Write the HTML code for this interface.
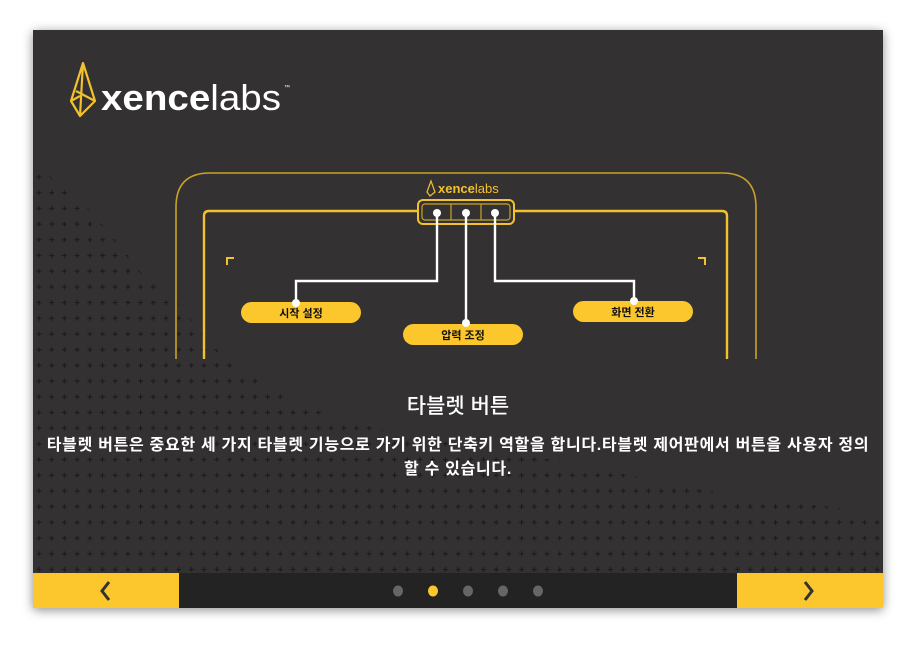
<!DOCTYPE html>
<html><head><meta charset="utf-8"><style>
html,body{margin:0;padding:0;background:#fff;width:916px;height:646px;overflow:hidden}
.card{position:absolute;left:33px;top:30px;width:850px;height:578px;background:#333131;box-shadow:0 2px 10px rgba(0,0,0,.45)}
svg{position:absolute;left:0;top:0}
.t{position:absolute;left:0;width:916px;text-align:center;color:#fff;font-family:"Liberation Sans","Noto Sans CJK KR",sans-serif;white-space:nowrap}
</style></head><body>
<div class="card"></div>
<svg width="916" height="646" viewBox="0 0 916 646">
<defs>
<pattern id="pl" x="35" y="173" width="12.7" height="15.7" patternUnits="userSpaceOnUse">
<path d="M4 1.5V6.5M1.5 4H6.5" stroke="#1c1b1b" stroke-width="1.1"/>
</pattern>
<clipPath id="cp"><polygon points="33,170 45,170 58,186 83,202 96,217 109,233 122,248 134,264 147,280 172,296 185,312 198,327 211,343 226,359 300,405 393,433 570,463 653,480 741,497 884,513 884,573 33,573"/></clipPath>
</defs>
<rect x="33" y="170" width="851" height="403" fill="url(#pl)" clip-path="url(#cp)"/>
<g fill="none" stroke="#f2c12e" stroke-width="2.2" stroke-linejoin="round">
<path d="M83,63 L71,101 L80,116 L95,101 Z"/>
<path d="M83,63 L80,116 M76,91 L95,101 M71,101 L80,96"/>
</g>
<text x="101" y="110" font-family="Liberation Sans,sans-serif" font-size="36" fill="#fff" textLength="180" lengthAdjust="spacingAndGlyphs"><tspan font-weight="bold">xence</tspan><tspan font-weight="normal">labs</tspan></text>
<text x="284" y="89" font-family="Liberation Sans,sans-serif" font-size="6" fill="#fff">™</text>
<path d="M176,359 V207 Q176,173 210,173 H722 Q756,173 756,207 V359" fill="none" stroke="#c9a227" stroke-width="1.6"/>
<path d="M204,359 V216 Q204,211 209,211 H418 M514,211 H722 Q727,211 727,216 V359" fill="none" stroke="#f2c12e" stroke-width="2.4"/>
<rect x="418" y="200" width="96" height="24" rx="5" fill="none" stroke="#f2c12e" stroke-width="2"/>
<rect x="422" y="204" width="88" height="16" rx="3" fill="none" stroke="#c9a227" stroke-width="1.2"/>
<path d="M451,204 V220 M481,204 V220" stroke="#c9a227" stroke-width="1.2"/>
<g fill="none" stroke="#f2c12e" stroke-width="2"><path d="M227,265 V258 H234"/><path d="M698,258 H705 V265"/></g>
<g transform="translate(427,181)" fill="none" stroke="#f2c12e" stroke-width="1.2"><path d="M4,0 L0,11 L3,15 L8,11 Z"/></g>
<text x="438" y="193" font-family="Liberation Sans,sans-serif" font-size="13" fill="#f2c12e"><tspan font-weight="bold">xence</tspan>labs</text>
<g fill="none" stroke="#fff" stroke-width="2.4">
<path d="M437,213 V281 H296 V303"/><path d="M466,213 V323"/><path d="M495,213 V281 H634 V301"/>
</g>
<rect x="241" y="302" width="120" height="21" rx="10.5" fill="#fcc72c"/>
<rect x="403" y="324" width="120" height="21" rx="10.5" fill="#fcc72c"/>
<rect x="573" y="301" width="120" height="21" rx="10.5" fill="#fcc72c"/>
<g fill="#fff"><circle cx="437" cy="213" r="4"/><circle cx="466" cy="213" r="4"/><circle cx="495" cy="213" r="4"/><circle cx="296" cy="303" r="4"/><circle cx="466" cy="323" r="4"/><circle cx="634" cy="301" r="4"/></g>
<g font-family="Liberation Sans,'Noto Sans CJK KR',sans-serif" font-size="11" font-weight="bold" fill="#111" text-anchor="middle">
<text x="301" y="317">시작 설정</text><text x="463" y="339">압력 조정</text><text x="633" y="316">화면 전환</text>
</g>
<rect x="33" y="573" width="850" height="35" fill="#242323"/>
<rect x="33" y="573" width="146" height="35" fill="#fcc72c"/>
<rect x="737" y="573" width="146" height="35" fill="#fcc72c"/>
<path d="M109,582 L102,591 L109,600" fill="none" stroke="#333" stroke-width="3"/>
<path d="M805,582 L812,591 L805,600" fill="none" stroke="#333" stroke-width="3"/>
<g fill="#666"><ellipse cx="398" cy="591" rx="5" ry="5.5"/><ellipse cx="468" cy="591" rx="5" ry="5.5"/><ellipse cx="503" cy="591" rx="5" ry="5.5"/><ellipse cx="538" cy="591" rx="5" ry="5.5"/></g>
<ellipse cx="433" cy="591" rx="5" ry="5.5" fill="#fcc72c"/>
</svg>
<div class="t" style="top:390px;font-size:21px;font-weight:500;left:0">타블렛 버튼</div>
<div class="t" style="top:434px;font-size:16px;font-weight:bold;line-height:24px;left:0;width:916px;letter-spacing:0.7px">타블렛 버튼은 중요한 세 가지 타블렛 기능으로 가기 위한 단축키 역할을 합니다.타블렛 제어판에서 버튼을 사용자 정의<br>할 수 있습니다.</div>
</body></html>
